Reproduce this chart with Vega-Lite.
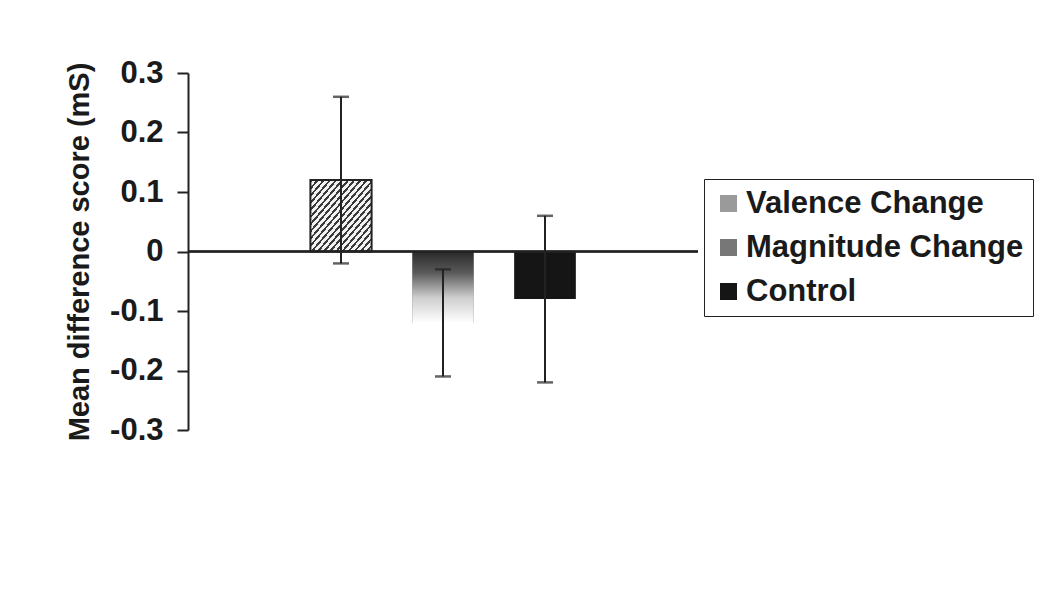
{
  "$schema": "https://vega.github.io/schema/vega-lite/v6.json",
  "width": 510,
  "height": 357,
  "autosize": "none",
  "padding": {"left": 188, "top": 73, "right": 345, "bottom": 169},
  "background": "white",
  "config": {"view": {"stroke": null}, "font": "Liberation Sans"},
  "data": {
    "values": [
      {"condition": "Valence Change", "mean": 0.12, "lower": -0.02, "upper": 0.26},
      {"condition": "Magnitude Change", "mean": -0.12, "lower": -0.21, "upper": -0.03},
      {"condition": "Control", "mean": -0.08, "lower": -0.22, "upper": 0.06}
    ]
  },
  "encoding": {
    "x": {
      "field": "condition",
      "type": "nominal",
      "scale": {"domain": [" ", "Valence Change", "Magnitude Change", "Control", "  "], "paddingInner": 0.4, "paddingOuter": 0.2},
      "axis": null
    }
  },
  "layer": [
    {
      "mark": {"type": "bar"},
      "encoding": {
        "y": {
          "field": "mean",
          "type": "quantitative",
          "scale": {"domain": [-0.3, 0.3], "nice": false, "zero": false},
          "title": "Mean difference score (mS)",
          "axis": {
            "values": [-0.3, -0.2, -0.1, 0, 0.1, 0.2, 0.3],
            "labelExpr": "datum.value == 0 ? '0' : (datum.value < 0 ? '-' : '') + format(abs(datum.value), '.1f')",
            "grid": false,
            "domainColor": "#222",
            "domainWidth": 2,
            "tickColor": "#222",
            "tickWidth": 2,
            "tickSize": 11,
            "labelPadding": 14,
            "labelFontSize": 31,
            "labelFontWeight": "bold",
            "labelColor": "#1a1a1a",
            "labelFont": "Liberation Sans",
            "titleFontSize": 29,
            "titleFontWeight": "bold",
            "titleColor": "#1a1a1a",
            "titleFont": "Liberation Sans",
            "titlePadding": 15
          }
        },
        "fill": {
          "field": "condition",
          "type": "nominal",
          "scale": {
            "domain": ["Valence Change", "Magnitude Change", "Control"],
            "range": ["#9a9a9a", "#777777", "#151515"]
          },
          "legend": {
            "title": null,
            "orient": "none",
            "legendX": 516,
            "legendY": 106,
            "strokeColor": "#222",
            "padding": 9,
            "symbolType": "square",
            "symbolSize": 289,
            "symbolStrokeWidth": 0,
            "symbolOpacity": 1,
            "labelFontSize": 31,
            "labelFontWeight": "bold",
            "labelFont": "Liberation Sans",
            "labelColor": "#1a1a1a",
            "labelOffset": 2,
            "labelLimit": 500,
            "rowPadding": 12,
            "encode": {
              "symbols": {
                "update": {
                  "fill": {
                    "value": {
                      "expr": "datum.value === 'Valence Change' ? {gradient: 'linear', x1: 0, y1: 0, x2: 1, y2: 1, stops: [{offset: 0, color: '#3a3a3a'}, {offset: 0.05, color: '#3a3a3a'}, {offset: 0.05, color: '#f2f2f2'}, {offset: 0.125, color: '#f2f2f2'}, {offset: 0.125, color: '#3a3a3a'}, {offset: 0.175, color: '#3a3a3a'}, {offset: 0.175, color: '#f2f2f2'}, {offset: 0.25, color: '#f2f2f2'}, {offset: 0.25, color: '#3a3a3a'}, {offset: 0.3, color: '#3a3a3a'}, {offset: 0.3, color: '#f2f2f2'}, {offset: 0.375, color: '#f2f2f2'}, {offset: 0.375, color: '#3a3a3a'}, {offset: 0.425, color: '#3a3a3a'}, {offset: 0.425, color: '#f2f2f2'}, {offset: 0.5, color: '#f2f2f2'}, {offset: 0.5, color: '#3a3a3a'}, {offset: 0.55, color: '#3a3a3a'}, {offset: 0.55, color: '#f2f2f2'}, {offset: 0.625, color: '#f2f2f2'}, {offset: 0.625, color: '#3a3a3a'}, {offset: 0.675, color: '#3a3a3a'}, {offset: 0.675, color: '#f2f2f2'}, {offset: 0.75, color: '#f2f2f2'}, {offset: 0.75, color: '#3a3a3a'}, {offset: 0.8, color: '#3a3a3a'}, {offset: 0.8, color: '#f2f2f2'}, {offset: 0.875, color: '#f2f2f2'}, {offset: 0.875, color: '#3a3a3a'}, {offset: 0.925, color: '#3a3a3a'}, {offset: 0.925, color: '#f2f2f2'}, {offset: 1, color: '#f2f2f2'}]} : datum.value === 'Magnitude Change' ? {gradient: 'linear', x1: 0, y1: 0, x2: 0, y2: 1, stops: [{offset: 0, color: '#3a3a3a'}, {offset: 0.4, color: '#888888'}, {offset: 1, color: '#ffffff'}]} : '#151515'"
                    }
                  }
                }
              }
            }
          }
        }
      }
    },
    {
      "mark": {"type": "bar", "stroke": "#222"},
      "encoding": {
        "y": {"field": "mean", "type": "quantitative"},
        "fill": {
          "condition": [
            {
              "test": "datum.condition === 'Valence Change'",
              "value": {"gradient": "linear", "x1": 0, "y1": 0, "x2": 1, "y2": 1, "stops": [
                {"offset": 0, "color": "#3a3a3a"}, {"offset": 0.02, "color": "#3a3a3a"}, {"offset": 0.02, "color": "#f2f2f2"}, {"offset": 0.05, "color": "#f2f2f2"},
                {"offset": 0.05, "color": "#3a3a3a"}, {"offset": 0.07, "color": "#3a3a3a"}, {"offset": 0.07, "color": "#f2f2f2"}, {"offset": 0.1, "color": "#f2f2f2"},
                {"offset": 0.1, "color": "#3a3a3a"}, {"offset": 0.12, "color": "#3a3a3a"}, {"offset": 0.12, "color": "#f2f2f2"}, {"offset": 0.15, "color": "#f2f2f2"},
                {"offset": 0.15, "color": "#3a3a3a"}, {"offset": 0.17, "color": "#3a3a3a"}, {"offset": 0.17, "color": "#f2f2f2"}, {"offset": 0.2, "color": "#f2f2f2"},
                {"offset": 0.2, "color": "#3a3a3a"}, {"offset": 0.22, "color": "#3a3a3a"}, {"offset": 0.22, "color": "#f2f2f2"}, {"offset": 0.25, "color": "#f2f2f2"},
                {"offset": 0.25, "color": "#3a3a3a"}, {"offset": 0.27, "color": "#3a3a3a"}, {"offset": 0.27, "color": "#f2f2f2"}, {"offset": 0.3, "color": "#f2f2f2"},
                {"offset": 0.3, "color": "#3a3a3a"}, {"offset": 0.32, "color": "#3a3a3a"}, {"offset": 0.32, "color": "#f2f2f2"}, {"offset": 0.35, "color": "#f2f2f2"},
                {"offset": 0.35, "color": "#3a3a3a"}, {"offset": 0.37, "color": "#3a3a3a"}, {"offset": 0.37, "color": "#f2f2f2"}, {"offset": 0.4, "color": "#f2f2f2"},
                {"offset": 0.4, "color": "#3a3a3a"}, {"offset": 0.42, "color": "#3a3a3a"}, {"offset": 0.42, "color": "#f2f2f2"}, {"offset": 0.45, "color": "#f2f2f2"},
                {"offset": 0.45, "color": "#3a3a3a"}, {"offset": 0.47, "color": "#3a3a3a"}, {"offset": 0.47, "color": "#f2f2f2"}, {"offset": 0.5, "color": "#f2f2f2"},
                {"offset": 0.5, "color": "#3a3a3a"}, {"offset": 0.52, "color": "#3a3a3a"}, {"offset": 0.52, "color": "#f2f2f2"}, {"offset": 0.55, "color": "#f2f2f2"},
                {"offset": 0.55, "color": "#3a3a3a"}, {"offset": 0.57, "color": "#3a3a3a"}, {"offset": 0.57, "color": "#f2f2f2"}, {"offset": 0.6, "color": "#f2f2f2"},
                {"offset": 0.6, "color": "#3a3a3a"}, {"offset": 0.62, "color": "#3a3a3a"}, {"offset": 0.62, "color": "#f2f2f2"}, {"offset": 0.65, "color": "#f2f2f2"},
                {"offset": 0.65, "color": "#3a3a3a"}, {"offset": 0.67, "color": "#3a3a3a"}, {"offset": 0.67, "color": "#f2f2f2"}, {"offset": 0.7, "color": "#f2f2f2"},
                {"offset": 0.7, "color": "#3a3a3a"}, {"offset": 0.72, "color": "#3a3a3a"}, {"offset": 0.72, "color": "#f2f2f2"}, {"offset": 0.75, "color": "#f2f2f2"},
                {"offset": 0.75, "color": "#3a3a3a"}, {"offset": 0.77, "color": "#3a3a3a"}, {"offset": 0.77, "color": "#f2f2f2"}, {"offset": 0.8, "color": "#f2f2f2"},
                {"offset": 0.8, "color": "#3a3a3a"}, {"offset": 0.82, "color": "#3a3a3a"}, {"offset": 0.82, "color": "#f2f2f2"}, {"offset": 0.85, "color": "#f2f2f2"},
                {"offset": 0.85, "color": "#3a3a3a"}, {"offset": 0.87, "color": "#3a3a3a"}, {"offset": 0.87, "color": "#f2f2f2"}, {"offset": 0.9, "color": "#f2f2f2"},
                {"offset": 0.9, "color": "#3a3a3a"}, {"offset": 0.92, "color": "#3a3a3a"}, {"offset": 0.92, "color": "#f2f2f2"}, {"offset": 0.95, "color": "#f2f2f2"},
                {"offset": 0.95, "color": "#3a3a3a"}, {"offset": 0.97, "color": "#3a3a3a"}, {"offset": 0.97, "color": "#f2f2f2"}, {"offset": 1, "color": "#f2f2f2"}
              ]}
            },
            {
              "test": "datum.condition === 'Magnitude Change'",
              "value": {"gradient": "linear", "x1": 0, "y1": 0, "x2": 0, "y2": 1, "stops": [
                {"offset": 0, "color": "#2a2a2a"},
                {"offset": 0.3, "color": "#5a5a5a"},
                {"offset": 0.65, "color": "#cfcfcf"},
                {"offset": 1, "color": "#ffffff"}
              ]}
            }
          ],
          "value": "#151515"
        },
        "strokeWidth": {
          "condition": {"test": "datum.condition === 'Valence Change'", "value": 2},
          "value": 0
        }
      }
    },
    {
      "mark": {"type": "rule", "color": "#222", "strokeWidth": 2},
      "encoding": {"x": null, "y": {"datum": 0, "type": "quantitative"}}
    },
    {
      "mark": {"type": "rule", "color": "#222", "strokeWidth": 2},
      "encoding": {
        "y": {"field": "lower", "type": "quantitative"},
        "y2": {"field": "upper"}
      }
    },
    {
      "mark": {"type": "tick", "color": "#222", "size": 16, "thickness": 2.5},
      "encoding": {
        "y": {"field": "upper", "type": "quantitative"}
      }
    },
    {
      "mark": {"type": "tick", "color": "#222", "size": 16, "thickness": 2.5},
      "encoding": {
        "y": {"field": "lower", "type": "quantitative"}
      }
    }
  ]
}
